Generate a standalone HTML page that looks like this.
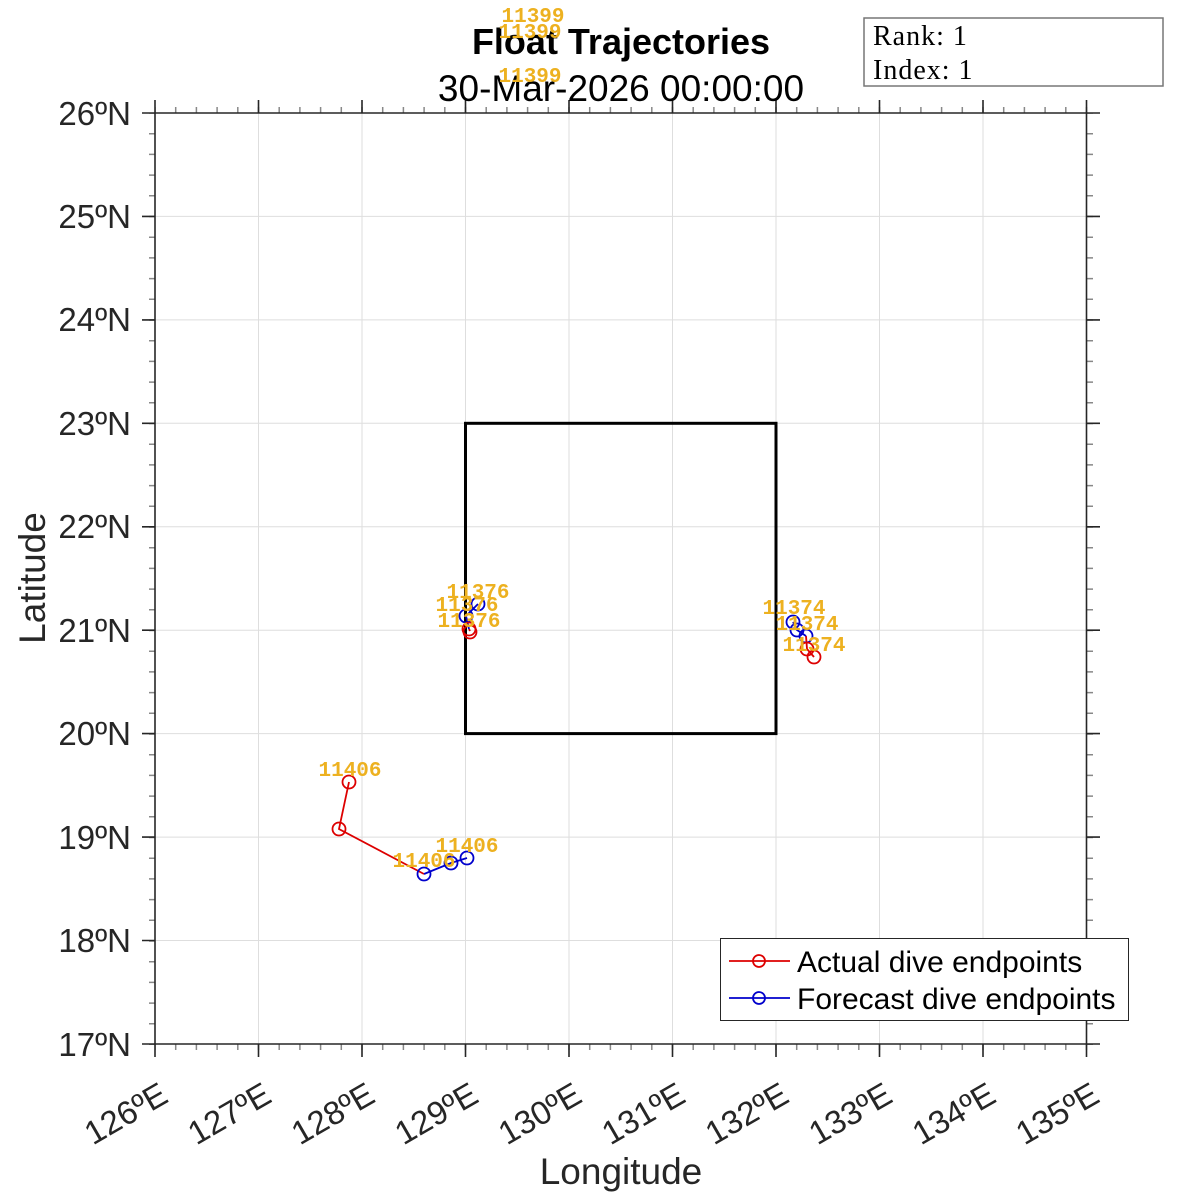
<!DOCTYPE html>
<html><head><meta charset="utf-8"><style>
html,body{margin:0;padding:0;background:#fff;}
svg{display:block;}
.tk{font-family:"Liberation Sans",Arial,sans-serif;font-size:33px;fill:#262626;}
.lb{font-family:"Liberation Mono",monospace;font-size:21px;font-weight:bold;fill:#EDB120;}
</style></head><body>
<svg width="1200" height="1200" viewBox="0 0 1200 1200" xmlns="http://www.w3.org/2000/svg">
<rect width="1200" height="1200" fill="#fff"/>
<g stroke="#dedede" stroke-width="1">
<line x1="258.5" y1="113" x2="258.5" y2="1044"/><line x1="362" y1="113" x2="362" y2="1044"/><line x1="465.5" y1="113" x2="465.5" y2="1044"/><line x1="569" y1="113" x2="569" y2="1044"/><line x1="672.5" y1="113" x2="672.5" y2="1044"/><line x1="776" y1="113" x2="776" y2="1044"/><line x1="879.5" y1="113" x2="879.5" y2="1044"/><line x1="983" y1="113" x2="983" y2="1044"/>
<line x1="155" y1="216.4" x2="1087" y2="216.4"/><line x1="155" y1="319.9" x2="1087" y2="319.9"/><line x1="155" y1="423.3" x2="1087" y2="423.3"/><line x1="155" y1="526.8" x2="1087" y2="526.8"/><line x1="155" y1="630.2" x2="1087" y2="630.2"/><line x1="155" y1="733.6" x2="1087" y2="733.6"/><line x1="155" y1="837.1" x2="1087" y2="837.1"/><line x1="155" y1="940.5" x2="1087" y2="940.5"/>
</g>
<g stroke="#888" stroke-width="6" stroke-dasharray="1.5 19.2" stroke-dashoffset="0.75">
<line x1="155" y1="110" x2="1088" y2="110"/>
<line x1="155" y1="1047" x2="1088" y2="1047"/>
<line x1="152" y1="113" x2="152" y2="1045"/>
<line x1="1090" y1="113" x2="1090" y2="1045"/>
</g>
<g stroke="#262626" stroke-width="1.6" fill="none">
<line x1="142" y1="113" x2="1100" y2="113"/>
<line x1="142" y1="1044" x2="1100" y2="1044"/>
<line x1="155" y1="100" x2="155" y2="1057"/>
<line x1="1086.5" y1="100" x2="1086.5" y2="1057"/>
<path d="M258.5 100V113M362 100V113M465.5 100V113M569 100V113M672.5 100V113M776 100V113M879.5 100V113M983 100V113
M258.5 1044V1057M362 1044V1057M465.5 1044V1057M569 1044V1057M672.5 1044V1057M776 1044V1057M879.5 1044V1057M983 1044V1057
M142 216.4H155M142 319.9H155M142 423.3H155M142 526.8H155M142 630.2H155M142 733.6H155M142 837.1H155M142 940.5H155
M1086.5 216.4H1100M1086.5 319.9H1100M1086.5 423.3H1100M1086.5 526.8H1100M1086.5 630.2H1100M1086.5 733.6H1100M1086.5 837.1H1100M1086.5 940.5H1100"/>
</g>
<g class="tk" text-anchor="end">
<text x="131" y="125">26ºN</text><text x="131" y="228">25ºN</text><text x="131" y="331">24ºN</text><text x="131" y="435">23ºN</text><text x="131" y="538">22ºN</text><text x="131" y="642">21ºN</text><text x="131" y="745">20ºN</text><text x="131" y="849">19ºN</text><text x="131" y="952">18ºN</text><text x="131" y="1056">17ºN</text>
</g>
<g class="tk" text-anchor="end">
<text transform="translate(170,1101) rotate(-30)">126ºE</text>
<text transform="translate(273.5,1101) rotate(-30)">127ºE</text>
<text transform="translate(377,1101) rotate(-30)">128ºE</text>
<text transform="translate(480.5,1101) rotate(-30)">129ºE</text>
<text transform="translate(584,1101) rotate(-30)">130ºE</text>
<text transform="translate(687.5,1101) rotate(-30)">131ºE</text>
<text transform="translate(791,1101) rotate(-30)">132ºE</text>
<text transform="translate(894.5,1101) rotate(-30)">133ºE</text>
<text transform="translate(998,1101) rotate(-30)">134ºE</text>
<text transform="translate(1101.5,1101) rotate(-30)">135ºE</text>
</g>
<text x="621" y="1184" text-anchor="middle" style="font-family:'Liberation Sans',Arial,sans-serif;font-size:37px;fill:#262626">Longitude</text>
<text transform="translate(45,578) rotate(-90)" text-anchor="middle" style="font-family:'Liberation Sans',Arial,sans-serif;font-size:37px;fill:#262626">Latitude</text>
<text x="621" y="54" text-anchor="middle" style="font-family:'Liberation Sans',Arial,sans-serif;font-size:36px;font-weight:bold;fill:#000">Float Trajectories</text>
<text x="621" y="101" text-anchor="middle" style="font-family:'Liberation Sans',Arial,sans-serif;font-size:37px;fill:#000">30-Mar-2026 00:00:00</text>
<rect x="465.5" y="423.3" width="310.5" height="310.3" fill="none" stroke="#000" stroke-width="3"/>
<polyline points="470,631 469,629" fill="none" stroke="#d00" stroke-width="1.8"/>
<polyline points="469,629 466,616 478,604" fill="none" stroke="#00c" stroke-width="1.8"/>
<g fill="none" stroke-width="1.8">
<circle cx="466" cy="616" r="6.5" stroke="#00c"/><circle cx="478" cy="604" r="6.5" stroke="#00c"/>
<circle cx="470" cy="632" r="6.5" stroke="#d00"/><circle cx="469" cy="629" r="6.5" stroke="#d00"/>
</g>
<polyline points="814,657 807,649 806,636" fill="none" stroke="#d00" stroke-width="1.8"/>
<polyline points="806,636 797,630 793,622" fill="none" stroke="#00c" stroke-width="1.8"/>
<g fill="none" stroke-width="1.8">
<circle cx="793" cy="622" r="6.5" stroke="#00c"/><circle cx="797" cy="630" r="6.5" stroke="#00c"/><circle cx="806" cy="636" r="6.5" stroke="#00c"/>
<circle cx="807" cy="649" r="6.5" stroke="#d00"/><circle cx="814" cy="657" r="6.5" stroke="#d00"/>
</g>
<polyline points="349,782 339,829 424,874" fill="none" stroke="#d00" stroke-width="1.8"/>
<polyline points="424,874 451,863 467,858" fill="none" stroke="#00c" stroke-width="1.8"/>
<g fill="none" stroke-width="1.8">
<circle cx="349" cy="782" r="6.5" stroke="#d00"/><circle cx="339" cy="829" r="6.5" stroke="#d00"/>
<circle cx="424" cy="874" r="6.5" stroke="#00c"/><circle cx="451" cy="863" r="6.5" stroke="#00c"/><circle cx="467" cy="858" r="6.5" stroke="#00c"/>
</g>
<g class="lb" text-anchor="middle">
<text x="478" y="598">11376</text><text x="467" y="611">11376</text><text x="469" y="627">11376</text>
<text x="794" y="614">11374</text><text x="807" y="630">11374</text><text x="814" y="651">11374</text>
<text x="350" y="776">11406</text><text x="424" y="867">11406</text><text x="467" y="852">11406</text>
<text x="533" y="22">11399</text><text x="530" y="38">11399</text><text x="530" y="82">11399</text>
</g>
<rect x="720.5" y="938.5" width="408" height="82" fill="#fff" stroke="#262626" stroke-width="1"/>
<line x1="729" y1="961" x2="790" y2="961" stroke="#d00" stroke-width="1.8"/>
<circle cx="759" cy="961" r="6" fill="none" stroke="#d00" stroke-width="1.8"/>
<line x1="729" y1="998" x2="790" y2="998" stroke="#00c" stroke-width="1.8"/>
<circle cx="759" cy="998" r="6" fill="none" stroke="#00c" stroke-width="1.8"/>
<g style="font-family:'Liberation Sans',Arial,sans-serif;font-size:30px;fill:#000">
<text x="797" y="972">Actual dive endpoints</text>
<text x="797" y="1009">Forecast dive endpoints</text>
</g>
<rect x="864" y="18" width="299" height="68" fill="#fff" stroke="#777" stroke-width="1.5"/>
<g style="font-family:'Liberation Serif','Times New Roman',serif;font-size:28px;fill:#000;letter-spacing:1px">
<text x="873" y="45">Rank: 1</text>
<text x="873" y="79">Index: 1</text>
</g>
</svg>
</body></html>
